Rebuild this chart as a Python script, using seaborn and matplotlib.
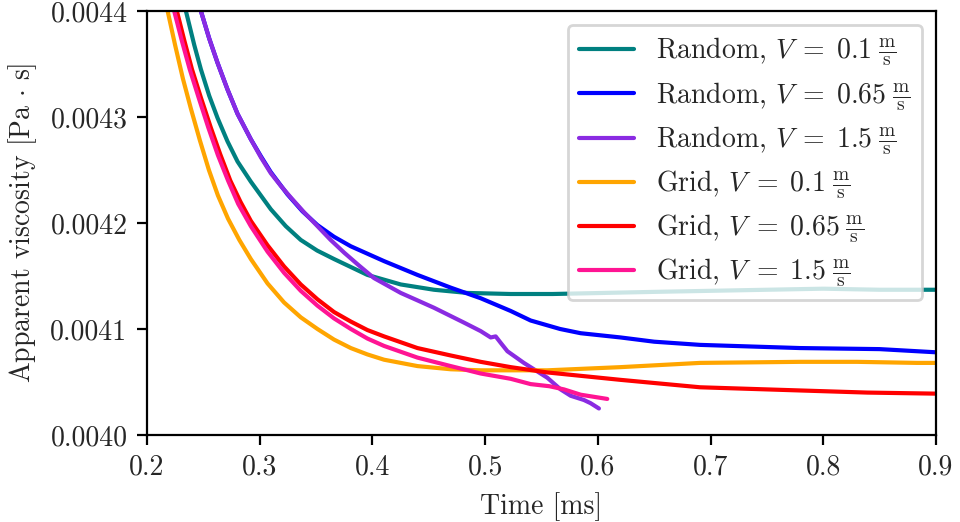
import pandas as pd
import matplotlib
matplotlib.use("Agg")
import matplotlib.pyplot as plt
import seaborn as sns

# time [ms] / apparent viscosity [Pa s]
rand_01_t = [0.228, 0.2346, 0.2420, 0.2479, 0.2553, 0.2627, 0.2715, 0.2804, 0.2922, 0.3099,
             0.3232, 0.3365, 0.351, 0.366, 0.3956, 0.4252, 0.4547, 0.4843, 0.5227, 0.56,
             0.65, 0.75, 0.80, 0.85, 0.90]
rand_01_v = [0.004450, 0.004400, 0.004368, 0.004345, 0.004320, 0.004299, 0.004277, 0.004258,
             0.004239, 0.004213, 0.004197, 0.004184, 0.004174, 0.004166, 0.004151, 0.004142,
             0.004137, 0.004134, 0.004133, 0.004133, 0.004135, 0.004137, 0.004138, 0.004137,
             0.004137]

rand_065_t = [0.242, 0.2479, 0.2553, 0.2627, 0.2715, 0.2804, 0.2922, 0.3011, 0.3099, 0.3247,
              0.3380, 0.3513, 0.366, 0.3809, 0.4104, 0.44, 0.4695, 0.4961, 0.5227, 0.5404,
              0.5665, 0.5848, 0.6202, 0.65, 0.6907, 0.7794, 0.85, 0.90]
rand_065_v = [0.004440, 0.004400, 0.004374, 0.004351, 0.004326, 0.004303, 0.004279, 0.004263,
              0.004248, 0.004227, 0.004211, 0.004198, 0.004187, 0.004178, 0.004164, 0.004151,
              0.004139, 0.004129, 0.004117, 0.004108, 0.004100, 0.004096, 0.004092, 0.004088,
              0.004085, 0.004082, 0.004081, 0.004078]

rand_15_t = [0.240, 0.2479, 0.2553, 0.2627, 0.2715, 0.2804, 0.2922, 0.3011, 0.3099, 0.3188,
             0.3277, 0.3395, 0.3513, 0.363, 0.375, 0.388, 0.4015, 0.4252, 0.44, 0.4547,
             0.468, 0.4813, 0.4961, 0.505, 0.5094, 0.5138, 0.5198, 0.5344, 0.5552, 0.567,
             0.5759, 0.5877, 0.5936, 0.601]
rand_15_v = [0.004450, 0.004400, 0.004374, 0.004351, 0.004326, 0.004303, 0.004279, 0.004262,
             0.004247, 0.004235, 0.004224, 0.004210, 0.004197, 0.004184, 0.004172, 0.004160,
             0.004148, 0.004134, 0.004127, 0.004120, 0.004113, 0.004106, 0.004098, 0.004092,
             0.004093, 0.004087, 0.004079, 0.004068, 0.004054, 0.004043, 0.004037, 0.004033,
             0.004030, 0.004025]

grid_01_t = [0.212, 0.2184, 0.2250, 0.2320, 0.2390, 0.2470, 0.2550, 0.2630, 0.2720, 0.2820,
             0.2922, 0.3070, 0.3217, 0.3365, 0.3513, 0.366, 0.3809, 0.3956, 0.4104, 0.44,
             0.4695, 0.4961, 0.5552, 0.6202, 0.6907, 0.7794, 0.83, 0.883, 0.90]
grid_01_v = [0.004450, 0.004400, 0.004368, 0.004336, 0.004308, 0.004278, 0.004250, 0.004226,
             0.004204, 0.004184, 0.004166, 0.004143, 0.004125, 0.004111, 0.004100, 0.004090,
             0.004082, 0.004076, 0.004071, 0.004065, 0.004062, 0.004061, 0.004061, 0.004064,
             0.004068, 0.004069, 0.004069, 0.004068, 0.004068]

grid_065_t = [0.220, 0.2266, 0.2330, 0.2400, 0.2480, 0.2567, 0.2650, 0.2740, 0.2830, 0.2922,
              0.3070, 0.3217, 0.3365, 0.3513, 0.366, 0.3809, 0.3956, 0.4104, 0.44, 0.4695,
              0.4961, 0.5227, 0.5552, 0.6202, 0.6907, 0.7794, 0.839, 0.90]
grid_065_v = [0.004450, 0.004400, 0.004373, 0.004345, 0.004318, 0.004290, 0.004265, 0.004240,
              0.004220, 0.004202, 0.004179, 0.004159, 0.004142, 0.004128, 0.004116, 0.004107,
              0.004099, 0.004093, 0.004082, 0.004075, 0.004069, 0.004064, 0.004059, 0.004052,
              0.004045, 0.004042, 0.004040, 0.004039]

grid_15_t = [0.217, 0.2242, 0.2310, 0.2380, 0.2460, 0.2545, 0.2630, 0.2720, 0.2810, 0.2922,
             0.3070, 0.3217, 0.3365, 0.3513, 0.366, 0.3809, 0.3956, 0.4104, 0.44, 0.4695,
             0.4961, 0.5227, 0.5404, 0.557, 0.570, 0.5848, 0.5966, 0.6084]
grid_15_v = [0.004450, 0.004400, 0.004372, 0.004345, 0.004318, 0.004290, 0.004264, 0.004240,
             0.004218, 0.004197, 0.004173, 0.004153, 0.004136, 0.004122, 0.004110, 0.004100,
             0.004091, 0.004084, 0.004073, 0.004065, 0.004058, 0.004053, 0.004048, 0.004046,
             0.004043, 0.004038, 0.004036, 0.004034]

unit = r"\;\frac{\mathrm{m}}{\mathrm{s}}$"
labels = [
    r"Random, $V\;=\;0.1" + unit,
    r"Random, $V\;=\;0.65" + unit,
    r"Random, $V\;=\;1.5" + unit,
    r"Grid, $V\;=\;0.1" + unit,
    r"Grid, $V\;=\;0.65" + unit,
    r"Grid, $V\;=\;1.5" + unit,
]
colors = ["teal", "blue", "blueviolet", "orange", "red", "deeppink"]
series = [(rand_01_t, rand_01_v), (rand_065_t, rand_065_v), (rand_15_t, rand_15_v),
          (grid_01_t, grid_01_v), (grid_065_t, grid_065_v), (grid_15_t, grid_15_v)]

df = pd.concat([pd.DataFrame({"t": t, "v": v, "case": lab})
                for (t, v), lab in zip(series, labels)], ignore_index=True)

sns.set_style("ticks")
plt.rcParams["font.family"] = "serif"
plt.rcParams["font.serif"] = ["cmr10"]
plt.rcParams["mathtext.fontset"] = "cm"
plt.rcParams["axes.formatter.use_mathtext"] = True
plt.rcParams["font.size"] = 10

fig = plt.figure(figsize=(4.8, 2.61), dpi=200)
ax = fig.add_axes([0.153, 0.1667, 0.822, 0.8123])

sns.lineplot(data=df, x="t", y="v", hue="case", hue_order=labels,
             palette=dict(zip(labels, colors)), estimator=None, sort=False,
             linewidth=1.5, ax=ax)

ax.set_xlim(0.2, 0.9)
ax.set_ylim(0.0040, 0.0044)
yt = [0.0040, 0.0041, 0.0042, 0.0043, 0.0044]
ax.set_yticks(yt)
ax.set_yticklabels([f"{v:.4f}" for v in yt])
xt = [0.2, 0.3, 0.4, 0.5, 0.6, 0.7, 0.8, 0.9]
ax.set_xticks(xt)
ax.set_xticklabels([f"{v:.1f}" for v in xt])
ax.tick_params(labelsize=10, length=3.5, width=0.8, color="black")
ax.set_xlabel("Time [ms]", fontsize=10)
ax.set_ylabel(r"Apparent viscosity [$\mathrm{Pa}\,\cdot\,\mathrm{s}$]", fontsize=10)
for s in ax.spines.values():
    s.set_visible(True)
    s.set_color("black")
    s.set_linewidth(0.8)
ax.legend(loc="upper right", fontsize=10, title=None, labelspacing=0.42)

fig.savefig("out.png", dpi=200)
